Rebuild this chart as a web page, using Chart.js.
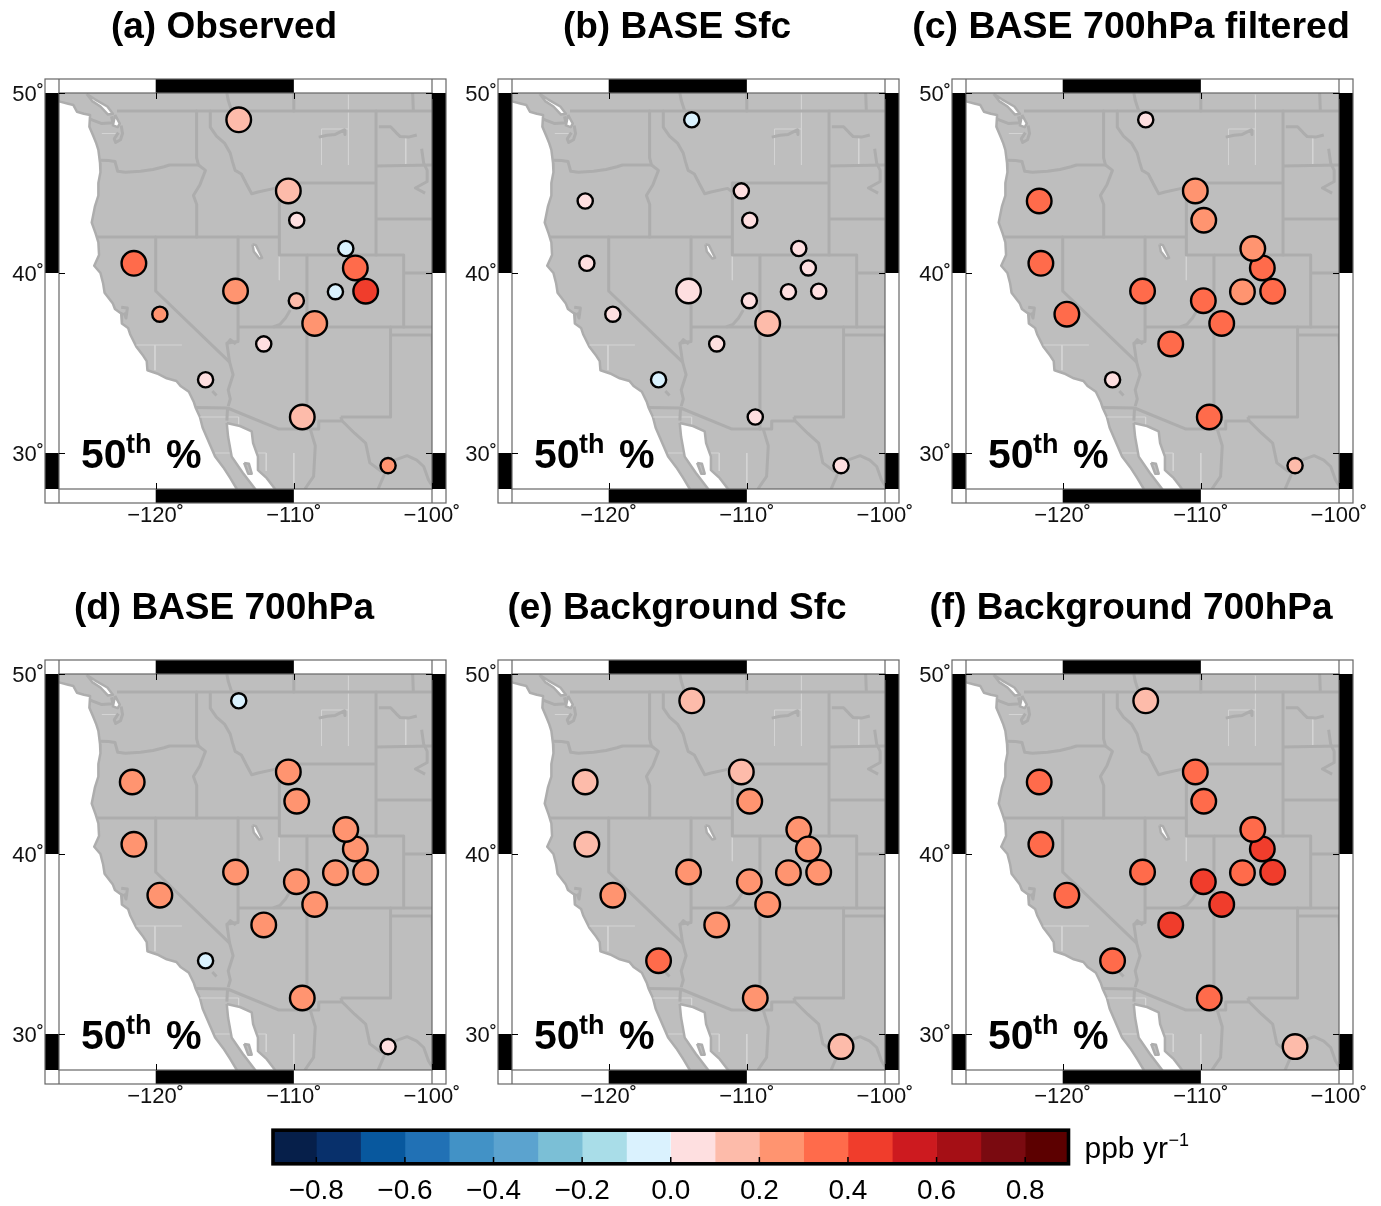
<!DOCTYPE html>
<html>
<head>
<meta charset="utf-8">
<title>Ozone trends, 50th percentile</title>
<script src="https://cdn.jsdelivr.net/npm/chart.js@4"></script>
<style>
  body { margin: 0; background: #fff; }
  #wrap { position: relative; width: 1381px; height: 1206px; overflow: hidden; }
  canvas { position: absolute; }
</style>
</head>
<body>
<div id="wrap"></div>
<script>
// stations: GLA YEL PND CNT ROM USA GTH CAN MEV GRB LAV YOS GRC JOT CHA BBE CRLA
const stationLon = [-113.99, -110.4, -109.79, -106.24, -105.55, -104.8, -106.99, -109.82, -108.49, -114.22, -121.58, -119.7, -112.18, -116.39, -109.39, -103.18, -121.7];
const stationLat = [48.51, 44.56, 42.93, 41.36, 40.28, 38.99, 38.96, 38.46, 37.2, 39.0, 40.54, 37.71, 36.06, 34.07, 32.0, 29.3, 44.0];

// trends in ppb/yr
const observedVals = [0.15, 0.15, 0.05, -0.05, 0.35, 0.45, -0.05, 0.15, 0.25, 0.25, 0.35, 0.25, 0.05, 0.05, 0.15, 0.25, null];
const baseSfcVals = [-0.05, 0.05, 0.05, 0.05, 0.05, 0.05, 0.05, 0.05, 0.15, 0.05, 0.05, 0.05, 0.05, -0.05, 0.05, 0.05, 0.05];
const base700fVals = [0.05, 0.25, 0.25, 0.25, 0.35, 0.35, 0.25, 0.35, 0.35, 0.35, 0.35, 0.35, 0.35, 0.05, 0.35, 0.15, 0.35];
const base700Vals = [-0.05, 0.25, 0.25, 0.25, 0.25, 0.25, 0.25, 0.25, 0.25, 0.25, 0.25, 0.25, 0.25, -0.05, 0.25, 0.05, 0.25];
const bgSfcVals = [0.15, 0.15, 0.25, 0.25, 0.25, 0.25, 0.25, 0.25, 0.25, 0.25, 0.15, 0.25, 0.25, 0.35, 0.25, 0.15, 0.15];
const bg700Vals = [0.15, 0.35, 0.35, 0.35, 0.45, 0.45, 0.35, 0.45, 0.45, 0.35, 0.35, 0.35, 0.45, 0.35, 0.35, 0.15, 0.35];

// 1 = large circle, 0 = small circle
const observedBig = [1, 1, 0, 0, 1, 1, 0, 0, 1, 1, 1, 0, 0, 0, 1, 0, 0];
const baseSfcBig = [0, 0, 0, 0, 0, 0, 0, 0, 1, 1, 0, 0, 0, 0, 0, 0, 0];
const base700fBig = [0, 1, 1, 1, 1, 1, 1, 1, 1, 1, 1, 1, 1, 0, 1, 0, 1];
const base700Big = [0, 1, 1, 1, 1, 1, 1, 1, 1, 1, 1, 1, 1, 0, 1, 0, 1];
const bgSfcBig = [1, 1, 1, 1, 1, 1, 1, 1, 1, 1, 1, 1, 1, 1, 1, 1, 1];
const bg700Big = [1, 1, 1, 1, 1, 1, 1, 1, 1, 1, 1, 1, 1, 1, 1, 1, 1];

const panelTitles = ["(a) Observed", "(b) BASE Sfc", "(c) BASE 700hPa filtered", "(d) BASE 700hPa", "(e) Background Sfc", "(f) Background 700hPa"];
const panelVals = [observedVals, baseSfcVals, base700fVals, base700Vals, bgSfcVals, bg700Vals];
const panelBig = [observedBig, baseSfcBig, base700fBig, base700Big, bgSfcBig, bg700Big];

const lonTicks = [-120, -110, -100];
const latTicks = [30, 40, 50];
// frame bands, black from lo to hi
const lonBlack = [[-120, -110]];
const latBlack = [[40, 50], [28, 30]];

const cbEdges = [-0.9, -0.8, -0.7, -0.6, -0.5, -0.4, -0.3, -0.2, -0.1, 0, 0.1, 0.2, 0.3, 0.4, 0.5, 0.6, 0.7, 0.8, 0.9];
const cbColors = ["#061f4a", "#08306b", "#08589e", "#2171b5", "#4292c6", "#5ba3cf", "#7bbfd6", "#a9dde8", "#daf2fe",
                  "#fedfe0", "#fdbbaa", "#ff9470", "#ff6b4b", "#f03d2c", "#cd1a1f", "#a50f15", "#7a0a10", "#5c0000"];
const cbTicks = [-0.8, -0.6, -0.4, -0.2, 0, 0.2, 0.4, 0.6, 0.8];

// map outlines, [lon, lat]
const landShape = [[-128, 49.95], [-126.93, 49.52], [-126.4, 49.42], [-125.96, 49.33], [-125.7, 48.96], [-125.2, 48.85], [-124.75, 48.78],
  [-124.8, 48.13], [-124.5, 47.58], [-124.3, 47.2], [-124.15, 46.84], [-124.03, 46.1], [-124.0, 45.6], [-124.15, 45], [-124.15, 44.3], [-124.4, 43.7], [-124.63, 42.8],
  [-124.35, 42.2], [-124.15, 41.7], [-124.1, 41.0], [-124.45, 40.4], [-124.0, 40.0], [-123.8, 39.4], [-123.7, 38.9], [-123.1, 38.3], [-122.95, 38.0],
  [-122.5, 37.75], [-122.45, 37.2], [-122.0, 36.95], [-121.85, 36.6], [-121.4, 35.9], [-120.9, 35.4], [-120.65, 35.1], [-120.6, 34.6],
  [-119.9, 34.42], [-119.2, 34.15], [-118.5, 34.0], [-118.2, 33.72], [-117.6, 33.4], [-117.25, 32.85], [-117.1, 32.5], [-116.8, 32.0], [-116.6, 31.4],
  [-116.06, 30.45], [-115.7, 29.8], [-115.1, 29.2], [-114.6, 28.6], [-114.13, 28.0], [-113.9, 27.5], [-99, 27.5], [-99, 51], [-128, 51], [-128, 49.95]];
const gulfShape = [[-114.86, 31.67], [-113.9, 31.5], [-113.05, 31.2], [-112.95, 30.55], [-112.6, 29.8], [-112.6, 29.05], [-111.96, 28.6], [-111.36, 28], [-111, 27.5],
  [-112.5, 27.5], [-112.8, 28], [-113.7, 28.9], [-114.5, 29.8], [-114.76, 30.9], [-114.86, 31.67]];
const gulfIsland = [[-113.6, 29.45], [-113.25, 29.4], [-113.05, 28.85], [-113.3, 28.85], [-113.6, 29.45]];
const georgiaStrait = [[-125.0, 49.95], [-124.4, 49.65], [-123.5, 49.25], [-123.1, 48.85], [-123.45, 48.8], [-124.0, 49.25], [-124.6, 49.55], [-125.0, 49.95]];
const pugetWater = [[-122.94, 48.78], [-122.6, 48.3], [-122.75, 48.1], [-123.1, 48.2], [-122.94, 48.78]];
const saltLake = [[-113.0, 41.6], [-112.75, 41.55], [-112.3, 40.85], [-112.5, 40.8], [-112.9, 41.2], [-113.0, 41.6]];

const borderLines = [
  [[-122.8, 49], [-100, 49]],
  [[-124.75, 48.55], [-123.9, 48.3], [-123.1, 48.35], [-123.2, 48.7]],
  [[-122.5, 48.2], [-122.4, 47.75], [-122.55, 47.4], [-122.9, 47.25], [-123.0, 47.45], [-122.7, 47.8]],
  [[-124, 46.27], [-123.4, 46.25], [-122.95, 46.2], [-122.75, 45.65], [-122.2, 45.6], [-121.1, 45.65], [-120.2, 45.75], [-119.4, 45.9], [-119, 46], [-116.9, 46]],
  [[-117.04, 49], [-117.04, 46.4], [-116.9, 46], [-116.4, 45.7], [-116.8, 44.9], [-117.27, 44.3], [-117.03, 43.8], [-117.03, 42]],
  [[-124.3, 42], [-111.05, 42]],
  [[-120, 42], [-120, 39], [-114.65, 35.05]],
  [[-114.65, 35.05], [-114.4, 34.35], [-114.75, 33.5], [-114.6, 33], [-114.75, 32.6]],
  [[-114.04, 42], [-114.04, 36.2], [-114.45, 36.15], [-114.85, 36.1], [-114.65, 35.05]],
  [[-114.04, 37], [-100, 37]],
  [[-111.05, 45], [-111.05, 41], [-109.05, 41], [-109.05, 31.33]],
  [[-111.05, 45], [-104.05, 45]],
  [[-109.05, 41], [-102.05, 41], [-102.05, 37]],
  [[-104.05, 49], [-104.05, 41]],
  [[-104.05, 45.95], [-100, 46]],
  [[-104.05, 43], [-100, 43]],
  [[-102.05, 40], [-100, 40]],
  [[-103, 36.55], [-99.9, 36.55]],
  [[-100, 36.55], [-99.9, 34.6]],
  [[-103, 37], [-103, 32], [-106.6, 32]],
  [[-106.6, 32], [-106.5, 31.78], [-105.6, 31.1], [-104.8, 30.55], [-104.5, 29.45], [-103.7, 29], [-103.15, 28.98], [-102.7, 29.6], [-101.8, 29.85], [-101.1, 29.6], [-100.6, 29.25], [-100.25, 28.5], [-100, 28.2]],
  [[-103.9, 28], [-103.4, 28.9]],
  [[-106.53, 31.78], [-108.2, 31.78], [-108.2, 31.33], [-111.07, 31.33], [-114.8, 32.5], [-117.12, 32.53]],
  [[-114.8, 32.5], [-114.85, 31.8]],
  [[-108.8, 31.3], [-108.45, 30.4], [-108.57, 28.7], [-109.2, 28]],
  [[-116.05, 49], [-116.05, 48.1], [-115.6, 47.6], [-115.0, 47.2], [-114.6, 46.65], [-114.45, 46.2], [-114.25, 45.7], [-113.8, 45.5], [-113.4, 44.9], [-113.05, 44.4], [-112.6, 44.5], [-111.4, 44.7], [-111.05, 44.5]],
  [[-114.85, 50], [-114.75, 49.6], [-114.5, 49]],
  [[-110, 50], [-110, 49]],
  [[-101.4, 50], [-101.35, 49]],
  // rivers and lakes
  [[-108.2, 47.55], [-107.6, 47.65], [-107, 47.7], [-106.35, 47.95], [-106.3, 47.7]],
  [[-103.85, 48.13], [-103.0, 48.13], [-102.6, 47.8], [-102.3, 47.58], [-101.7, 47.55], [-101.1, 47.67]],
  [[-100.75, 46.9], [-100.6, 46.1], [-100.35, 45.7], [-100.35, 45.08], [-101.2, 44.72], [-100.5, 44.44]],
  [[-110.26, 37.95], [-110.6, 37.5], [-111.0, 37.15], [-111.5, 37]],
  [[-122.5, 38.1], [-122.05, 38.05], [-122.15, 37.5], [-122.3, 37.8]],
  [[-115.9, 33.45], [-115.6, 33.2]],
  [[-114.8, 36.1], [-114.6, 36.3], [-114.2, 36.05]]
];
const faintLines = [
  [[-108, 46], [-108, 48], [-106.05, 48]],
  [[-106.05, 49.9], [-106.05, 46]],
  [[-101.9, 47.5], [-101.9, 46]],
  [[-121.4, 36], [-118.1, 36]],
  [[-120.05, 36], [-120.05, 34.6]],
  [[-116.8, 32], [-114, 32], [-114, 31.5]],
  [[-115.7, 30], [-112, 30], [-112, 29]],
  [[-110, 30], [-110, 28.3]],
  [[-111.05, 41.2], [-111.05, 39.6]],
  [[-123.9, 47.75], [-122.9, 47.75]]
];

Chart.defaults.font.family = '"Liberation Sans", Arial, sans-serif';
Chart.defaults.color = "#000";
Chart.defaults.animation = false;

const wrap = document.getElementById("wrap");
const LAND = "#bebebe", EDGE = "#adadad", FRAME = "#666";
const titleSizes = [37, 37, 37.5, 37, 37, 37];

function binColor(v) {
  for (let i = 0; i < cbColors.length; i++) {
    if (v >= cbEdges[i] && v < cbEdges[i + 1]) return cbColors[i];
  }
  return "#999";
}

function toPoints(list) {
  return list.map(p => ({ x: p[0], y: p[1] }));
}

function lineSet(list, color, width, order) {
  return { data: toPoints(list), showLine: true, pointRadius: 0, borderColor: color, borderWidth: width, order: order, fill: false, borderJoinStyle: "round" };
}

function shapeSet(list, fillColor, order) {
  return { data: toPoints(list), showLine: true, pointRadius: 0, borderColor: EDGE, borderWidth: 2.5, backgroundColor: fillColor, fill: "shape", order: order, borderJoinStyle: "round" };
}

// checkered frame, tick marks and the "50th %" note
const panelDecor = {
  id: "panelDecor",
  afterDatasetsDraw(chart) {
    const ctx = chart.ctx, a = chart.chartArea, xs = chart.scales.x, ys = chart.scales.y;
    const band = 14;
    const L = a.left - band, R = a.right + band, T = a.top - band, B = a.bottom + band;

    ctx.save();
    ctx.fillStyle = "#000";
    lonBlack.forEach(b => {
      const x0 = xs.getPixelForValue(b[0]), x1 = xs.getPixelForValue(b[1]);
      ctx.fillRect(x0, T, x1 - x0, band);
      ctx.fillRect(x0, a.bottom, x1 - x0, band);
    });
    latBlack.forEach(b => {
      const y0 = ys.getPixelForValue(b[1]), y1 = ys.getPixelForValue(b[0]);
      ctx.fillRect(L, y0, band, y1 - y0);
      ctx.fillRect(a.right, y0, band, y1 - y0);
    });

    ctx.strokeStyle = FRAME;
    ctx.lineWidth = 1.2;
    ctx.strokeRect(L, T, R - L, B - T);
    ctx.strokeRect(a.left, a.top, a.right - a.left, a.bottom - a.top);
    ctx.beginPath();
    ctx.moveTo(a.left, T); ctx.lineTo(a.left, a.top);
    ctx.moveTo(a.right, T); ctx.lineTo(a.right, a.top);
    ctx.moveTo(a.left, a.bottom); ctx.lineTo(a.left, B);
    ctx.moveTo(a.right, a.bottom); ctx.lineTo(a.right, B);
    ctx.stroke();

    ctx.strokeStyle = "#000";
    ctx.lineWidth = 1;
    ctx.beginPath();
    lonTicks.forEach(v => {
      const x = Math.round(xs.getPixelForValue(v)) + 0.5;
      ctx.moveTo(x, a.top); ctx.lineTo(x, a.top + 6);
      ctx.moveTo(x, a.bottom - 6); ctx.lineTo(x, a.bottom);
    });
    latTicks.forEach(v => {
      const y = Math.round(ys.getPixelForValue(v)) + 0.5;
      ctx.moveTo(a.left, y); ctx.lineTo(a.left + 6, y);
      ctx.moveTo(a.right - 6, y); ctx.lineTo(a.right, y);
    });
    ctx.stroke();

    const fam = Chart.defaults.font.family;
    ctx.fillStyle = "#000";
    ctx.textAlign = "left";
    ctx.textBaseline = "alphabetic";
    ctx.font = "bold 41px " + fam;
    ctx.fillText("50", a.left + 22, a.bottom - 21);
    ctx.font = "bold 27px " + fam;
    ctx.fillText("th", a.left + 67, a.bottom - 36);
    ctx.font = "bold 40px " + fam;
    ctx.fillText("%", a.left + 107, a.bottom - 21);
    ctx.restore();
  }
};

function makePanel(i) {
  const col = i % 3, row = Math.floor(i / 3);
  const canvas = document.createElement("canvas");
  canvas.width = 476;
  canvas.height = 540;
  canvas.style.left = (-14 + [0, 453, 907][col]) + "px";
  canvas.style.top = (row * 581) + "px";
  wrap.appendChild(canvas);

  const vals = panelVals[i], big = panelBig[i];
  // draw order of the overlapping Colorado stations differs between panels
  const idx = stationLon.map((_, k) => k);
  if (i === 2 || i === 3 || i === 5) { idx[3] = 4; idx[4] = 3; }
  const shown = idx.filter(k => vals[k] !== null);

  const sets = [
    {
      data: shown.map(k => ({ x: stationLon[k], y: stationLat[k] })),
      pointRadius: shown.map(k => big[k] ? 12.3 : 7.6),
      pointBackgroundColor: shown.map(k => binColor(vals[k])),
      pointBorderColor: "#000",
      pointBorderWidth: 2.4,
      order: 0
    },
    shapeSet(landShape, LAND, 10),
    shapeSet(gulfShape, "#fff", 7),
    shapeSet(gulfIsland, LAND, 6),
    shapeSet(georgiaStrait, "#fff", 7),
    shapeSet(pugetWater, "#fff", 7),
    shapeSet(saltLake, "#fff", 7)
  ];
  borderLines.forEach(l => sets.push(lineSet(l, EDGE, 3, 8)));
  faintLines.forEach(l => sets.push(lineSet(l, "#d4d4d4", 1, 9)));

  new Chart(canvas, {
    type: "scatter",
    data: { datasets: sets },
    plugins: [panelDecor],
    options: {
      responsive: false,
      layout: { padding: 0 },
      plugins: {
        legend: { display: false },
        tooltip: { enabled: false },
        title: {
          display: true,
          text: panelTitles[i],
          color: "#000",
          font: { size: titleSizes[i], weight: "bold", lineHeight: 1 },
          padding: { top: 9, bottom: 84 - titleSizes[i] }
        }
      },
      scales: {
        x: {
          type: "linear", min: -127, max: -100,
          grid: { drawOnChartArea: false, tickLength: 14, color: "rgba(0,0,0,0)" },
          border: { display: false },
          afterBuildTicks: s => { s.ticks = lonTicks.map(v => ({ value: v })); },
          // the right margin keeps the -100 label on the canvas, the title stays centred on all of it
          afterFit: s => { s.height = 51; s.paddingLeft = 0; s.paddingRight = 30; },
          ticks: {
            autoSkip: false, maxRotation: 0, padding: 0, color: "#111",
            font: { size: 22 },
            callback: v => "\u2212" + Math.abs(v) + "\u02DA"
          }
        },
        y: {
          type: "linear", min: 28, max: 50,
          grid: { drawOnChartArea: false, tickLength: 14, color: "rgba(0,0,0,0)" },
          border: { display: false },
          afterBuildTicks: s => { s.ticks = latTicks.map(v => ({ value: v })); },
          afterFit: s => { s.width = 73; s.paddingTop = 0; s.paddingBottom = 0; },
          ticks: {
            autoSkip: false, padding: 1, labelOffset: 2, color: "#111",
            font: { size: 22 },
            callback: v => v + "\u02DA"
          }
        }
      }
    }
  });
}

panelTitles.forEach((_, i) => makePanel(i));

// colour bar
const cbDecor = {
  id: "cbDecor",
  afterDatasetsDraw(chart) {
    const ctx = chart.ctx, a = chart.chartArea, xs = chart.scales.x;
    ctx.save();
    ctx.strokeStyle = "#000";
    ctx.lineWidth = 1.5;
    ctx.beginPath();
    cbTicks.forEach(v => {
      const x = xs.getPixelForValue(v);
      ctx.moveTo(x, a.bottom - 5); ctx.lineTo(x, a.bottom);
    });
    ctx.stroke();
    ctx.lineWidth = 3.6;
    ctx.strokeRect(a.left + 1, a.top - 1.8, a.right - a.left - 2, a.bottom - a.top + 3.6);

    const fam = Chart.defaults.font.family;
    ctx.fillStyle = "#000";
    ctx.textAlign = "left";
    ctx.textBaseline = "alphabetic";
    ctx.font = "30px " + fam;
    ctx.fillText("ppb yr", a.right + 15, a.bottom - 4);
    ctx.font = "18px " + fam;
    ctx.fillText("\u22121", a.right + 99, a.bottom - 16);
    ctx.restore();
  }
};

const cbCanvas = document.createElement("canvas");
cbCanvas.width = 1000;
cbCanvas.height = 96;
cbCanvas.style.left = "239px";
cbCanvas.style.top = "1110px";
wrap.appendChild(cbCanvas);

new Chart(cbCanvas, {
  type: "bar",
  data: {
    labels: [""],
    datasets: cbColors.map((c, i) => ({ data: [[cbEdges[i], cbEdges[i + 1]]], backgroundColor: c, borderWidth: 0 }))
  },
  plugins: [cbDecor],
  options: {
    indexAxis: "y",
    responsive: false,
    barPercentage: 1,
    categoryPercentage: 1,
    grouped: false,
    layout: { padding: { left: 33, right: 169.5, top: 22, bottom: 0 } },
    plugins: { legend: { display: false }, tooltip: { enabled: false }, title: { display: false } },
    scales: {
      x: {
        type: "linear", min: -0.9, max: 0.9,
        grid: { drawOnChartArea: false, tickLength: 10, color: "rgba(0,0,0,0)" },
        border: { display: false },
        afterBuildTicks: s => { s.ticks = cbTicks.map(v => ({ value: v })); },
        afterFit: s => { s.height = 44; s.paddingLeft = 0; s.paddingRight = 0; },
        ticks: {
          autoSkip: false, maxRotation: 0, padding: 2,
          font: { size: 28 },
          callback: v => (v < -1e-9 ? "\u2212" : "") + Math.abs(v).toFixed(1)
        }
      },
      y: { display: false }
    }
  }
});
</script>
</body>
</html>
